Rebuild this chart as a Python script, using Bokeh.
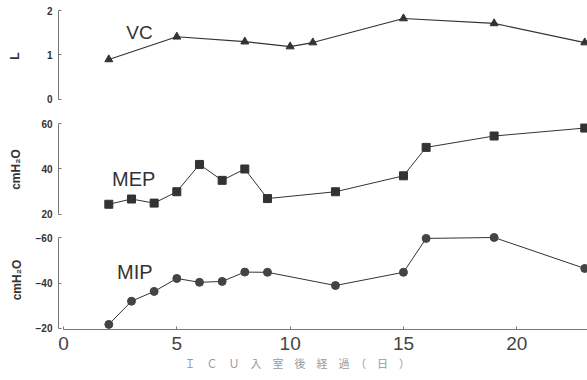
from bokeh.plotting import figure
from bokeh.layouts import column
from bokeh.models import Range1d, FixedTicker, Label, Title
from bokeh.embed import file_html
from bokeh.resources import INLINE

# ---- data ----
vc_days = [2, 5, 8, 10, 11, 15, 19, 23]
vc_vals = [0.9, 1.41, 1.3, 1.19, 1.28, 1.82, 1.71, 1.28]

mep_days = [2, 3, 4, 5, 6, 7, 8, 9, 12, 15, 16, 19, 23]
mep_vals = [24.5, 26.8, 25, 30, 42, 35, 40, 27, 30, 37, 49.5, 54.5, 58]

mip_days = [2, 3, 4, 5, 6, 7, 8, 9, 12, 15, 16, 19, 23]
mip_vals = [-21.8, -32, -36.3, -42, -40.3, -40.7, -44.8, -44.7, -38.9, -44.7, -59.6, -60, -46.4]

x_ticks = [0, 5, 10, 15, 20]
vc_ticks = [0, 1, 2]
mep_ticks = [20, 40, 60]
mip_ticks = [-60, -40, -20]

x_title = "Ｉ　Ｃ　Ｕ　入　室　後　経　過　（　日　）"

INK = "#333333"
AX = "#777777"
FONT = "Liberation Sans"

W = 587
LEFT = 58
x_range = Range1d(-0.22, 23.12)


def base(height, top, bottom, yr, label, standoff):
    p = figure(width=W, height=height, x_range=x_range, y_range=yr,
               output_backend="svg", toolbar_location=None,
               min_border_left=LEFT, min_border_right=0,
               min_border_top=top, min_border_bottom=bottom)
    p.outline_line_color = None
    p.grid.visible = False
    p.background_fill_color = "white"
    p.border_fill_color = "white"
    ya = p.yaxis[0]
    ya.axis_line_color = AX
    ya.axis_line_width = 1
    ya.major_tick_line_color = AX
    ya.major_tick_in = 3
    ya.major_tick_out = 0
    ya.minor_tick_line_color = None
    ya.major_label_text_font = FONT
    ya.major_label_text_font_style = "bold"
    ya.major_label_text_font_size = "10px"
    ya.major_label_text_color = INK
    ya.major_label_standoff = 6
    ya.axis_label = label
    ya.axis_label_text_font = FONT
    ya.axis_label_text_font_style = "bold"
    ya.axis_label_text_font_size = "12px"
    ya.axis_label_text_color = INK
    ya.axis_label_standoff = standoff
    return p


# ---- VC ----
p1 = base(115, 4, 8, Range1d(-0.18, 2.135), "L", 22)
p1.xaxis.visible = False
p1.yaxis[0].ticker = FixedTicker(ticks=vc_ticks)
p1.yaxis[0].bounds = (0, 2)
p1.line(vc_days, vc_vals, line_color=INK, line_width=1.2)
p1.scatter(vc_days, vc_vals, marker="triangle", size=8, fill_color=INK, line_color=INK)
p1.add_layout(Label(x=3.35, y=1.5, text="VC", text_font=FONT, text_font_size="19px",
                    text_color=INK, text_align="center", text_baseline="middle"))

# ---- MEP ----
p2 = base(109, 3, 4, Range1d(17.36, 62.2), "cmH₂O", 15)
p2.xaxis.visible = False
p2.yaxis[0].ticker = FixedTicker(ticks=mep_ticks)
p2.yaxis[0].bounds = (20, 60)
p2.line(mep_days, mep_vals, line_color=INK, line_width=1.0)
p2.scatter(mep_days, mep_vals, marker="square", size=8, fill_color=INK, line_color=INK)
p2.add_layout(Label(x=3.1, y=35.4, text="MEP", text_font=FONT, text_font_size="20px",
                    text_color=INK, text_align="center", text_baseline="middle"))

# ---- MIP ----
p3 = base(156, 6, 51, Range1d(-19.56, -63.08), "cmH₂O", 9)
p3.yaxis[0].ticker = FixedTicker(ticks=mip_ticks)
p3.yaxis[0].bounds = (-60, -20)
xa = p3.xaxis[0]
xa.ticker = FixedTicker(ticks=x_ticks)
xa.bounds = (0, 23.12)
xa.axis_line_color = AX
xa.major_tick_line_color = AX
xa.major_tick_in = 3
xa.major_tick_out = 0
xa.minor_tick_line_color = None
xa.major_label_text_font = FONT
xa.major_label_text_font_size = "19px"
xa.major_label_text_color = "#444444"
xa.major_label_standoff = 7
p3.add_layout(Title(text=x_title, align="left", offset=126, standoff=0,
                    text_font="Noto Sans CJK JP", text_font_style="normal",
                    text_font_size="11px", text_color="#999999"), "below")
p3.line(mip_days, mip_vals, line_color=INK, line_width=1.0)
p3.scatter(mip_days, mip_vals, marker="circle", size=8, fill_color="#444444", line_color="#444444")
p3.add_layout(Label(x=3.15, y=-44.7, text="MIP", text_font=FONT, text_font_size="20px",
                    text_color=INK, text_align="center", text_baseline="middle"))

layout = column(p1, p2, p3, spacing=0)
open("out.html", "w").write(file_html(layout, INLINE))
